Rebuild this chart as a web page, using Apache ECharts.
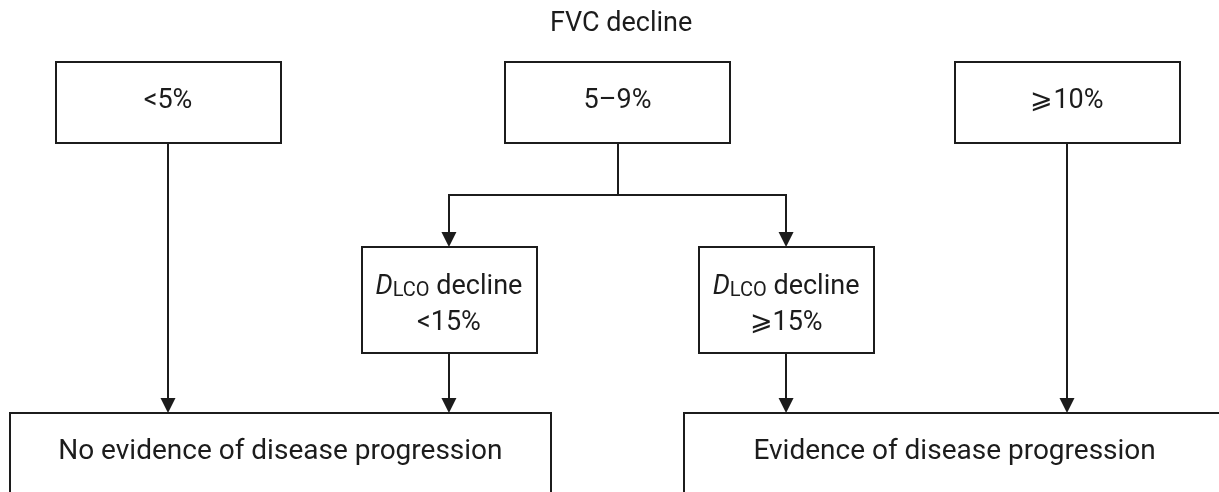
<!DOCTYPE html>
<html>
<head>
<meta charset="utf-8" />
<style>
  html, body { margin: 0; padding: 0; background: #fff; }
  #main { width: 1219px; height: 492px; }
</style>
</head>
<body>
<div id="main"></div>
<script src="https://cdn.jsdelivr.net/npm/echarts@6/dist/echarts.min.js"></script>
<script>
// flowchart content
const titleText = 'FVC decline';
const nodeLabels = [
  '<5%',
  '5–9%',
  '⩾10%',
  '{it|D}{sc|LCO}{n| decline}\n{n|<15%}',
  '{it|D}{sc|LCO}{n| decline}\n{n|⩾15%}',
  'No evidence of disease progression',
  'Evidence of disease progression'
];
const nodeLevel = [0, 0, 0, 1, 1, 2, 2];
const nodeColumn = [1, 3, 5, 2.25, 3.75, 1.5, 4.5];
const linkSource = [0, 1, 1, 3, 4, 2];
const linkTarget = [5, 3, 4, 5, 6, 6];

// layout (axis units: x = column, y = pixels down)
const halfWidth = [0.5, 0.389, 1.2035];
const rowTop = [62, 247, 413];
const rowBottom = [143, 353, 520];
const textY = [101, 301, 452];
const levelFont = [27, 27, 28];
const junctionY = 195;

const ink = '#1c1c1c';
const fontFamily = 'Roboto';

const chart = echarts.init(document.getElementById('main'));

const boxData = nodeLabels.map((_, i) => [nodeColumn[i], nodeLevel[i], i]);
const linkData = linkSource.map((s, i) => [nodeColumn[s], nodeLevel[s], s, linkTarget[i]]);

function renderBox(params, api) {
  const col = api.value(0);
  const lvl = api.value(1);
  const idx = api.value(2);
  const fs = levelFont[lvl];
  const p1 = api.coord([col - halfWidth[lvl], rowTop[lvl]]);
  const p2 = api.coord([col + halfWidth[lvl], rowBottom[lvl]]);
  const c = api.coord([col, textY[lvl]]);
  const rich = {
    it: { fontStyle: 'italic', fontSize: fs, fontFamily: fontFamily, fill: ink, verticalAlign: 'bottom', lineHeight: 36 },
    sc: { fontSize: 20, fontFamily: fontFamily, fill: ink, verticalAlign: 'bottom', lineHeight: 36 },
    n: { fontSize: fs, fontFamily: fontFamily, fill: ink, verticalAlign: 'bottom', lineHeight: 36 }
  };
  return {
    type: 'group',
    children: [
      {
        type: 'rect',
        shape: { x: Math.round(p1[0]), y: Math.round(p1[1]), width: Math.round(p2[0] - p1[0]), height: Math.round(p2[1] - p1[1]) },
        style: { fill: '#fff', stroke: ink, lineWidth: 2 }
      },
      {
        type: 'text',
        style: {
          text: nodeLabels[idx],
          x: c[0],
          y: c[1],
          align: 'center',
          verticalAlign: 'middle',
          fill: ink,
          fontSize: fs,
          fontFamily: fontFamily,
          rich: rich
        }
      }
    ]
  };
}

function renderLink(params, api) {
  const s = api.value(2);
  const t = api.value(3);
  const sCol = nodeColumn[s];
  const tCol = nodeColumn[t];
  const sLvl = nodeLevel[s];
  const tLvl = nodeLevel[t];
  // wide outcome boxes are entered straight below the source
  const endCol = tLvl === 2 ? sCol : tCol;
  const pts = [[sCol, rowBottom[sLvl]]];
  if (endCol !== sCol) {
    pts.push([sCol, junctionY], [endCol, junctionY]);
  }
  pts.push([endCol, rowTop[tLvl]]);
  const px = pts.map(p => api.coord(p));
  const tip = px[px.length - 1];
  px[px.length - 1] = [tip[0], tip[1] - 13];
  return {
    type: 'group',
    children: [
      {
        type: 'polyline',
        shape: { points: px.map(p => [Math.round(p[0]), Math.round(p[1])]) },
        style: { stroke: ink, lineWidth: 2, fill: null }
      },
      {
        type: 'polygon',
        shape: { points: [[tip[0] - 7.5, tip[1] - 15], [tip[0] + 7.5, tip[1] - 15], [tip[0], tip[1]]] },
        style: { fill: ink }
      }
    ]
  };
}

chart.setOption({
  backgroundColor: '#fff',
  animation: false,
  title: {
    text: titleText,
    left: 545,
    top: 6,
    textStyle: { fontFamily: fontFamily, fontSize: 27, fontWeight: 'normal', color: ink }
  },
  grid: { left: 0, right: 0, top: 0, bottom: 0 },
  xAxis: { type: 'value', min: 1 - 168 / 224.75, max: 5 + 152 / 224.75, show: false },
  yAxis: { type: 'value', min: 0, max: 492, inverse: true, show: false },
  series: [
    {
      type: 'custom',
      name: 'links',
      renderItem: renderLink,
      data: linkData,
      encode: { x: 0, y: 1 },
      z: 1
    },
    {
      type: 'custom',
      name: 'boxes',
      renderItem: renderBox,
      data: boxData,
      encode: { x: 0, y: 1 },
      z: 2
    }
  ]
});
</script>
</body>
</html>
